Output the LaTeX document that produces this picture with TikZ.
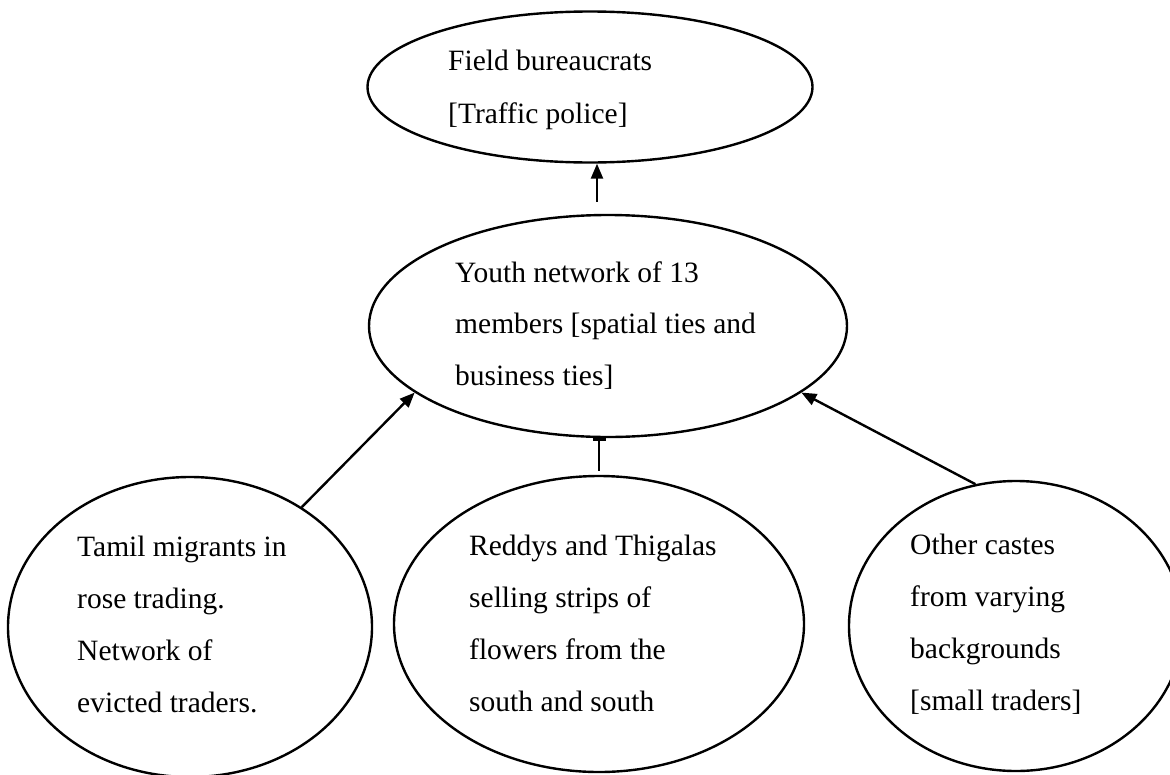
\documentclass[tikz,border=0pt]{standalone}
\usepackage{fontspec}
\setmainfont{Liberation Serif}
\usetikzlibrary{shapes.geometric,arrows.meta}
\begin{document}
\begin{tikzpicture}[x=1pt,y=-1pt,
  oval/.style={draw,ellipse,line width=2.4pt,inner sep=0pt},
  lbl/.style={anchor=base west,inner sep=0pt,align=left,font=\fontsize{29.5}{52}\selectfont},
  arr/.style={line width=2.4pt,-{Triangle[length=15pt,width=12pt]}},
  barr/.style={line width=2.4pt,-{Bar[width=13pt]}}]
\useasboundingbox (0,0) rectangle (1170,774);
% ellipses
\node[oval,minimum width=445pt,minimum height=151pt] (top) at (590,87) {};
\node[oval,minimum width=478pt,minimum height=222pt] (youth) at (608,326) {};
\node[oval,minimum width=364pt,minimum height=300pt] (left) at (190,627) {};
\node[oval,minimum width=410pt,minimum height=296pt] (mid) at (599,624) {};
\node[oval,minimum width=334pt,minimum height=290pt] (right) at (1016,626) {};
% texts (anchor = baseline of the last line)
\node[lbl,font=\fontsize{29.5}{53}\selectfont] (ttop) at (448,123) {Field bureaucrats\\{}[Traffic police]};
\node[lbl,font=\fontsize{29.5}{51.5}\selectfont] (tyouth) at (455,385) {Youth network of 13\\members [spatial ties and\\business ties]};
\node[lbl] (tleft) at (77,712) {Tamil migrants in\\rose trading.\\Network of\\evicted traders.};
\node[lbl] (tmid) at (469,711) {Reddys and Thigalas\\selling strips of\\flowers from the\\south and south};
\node[lbl] (tright) at (910,710) {Other castes\\from varying\\backgrounds\\{}[small traders]};
% connectors
\draw[arr] ([xshift=-11pt,yshift=12pt]youth.north) -- ([xshift=7pt]top.south);
\draw[arr] (left.47) -- (youth.199);
\draw[arr] (right.106) -- (youth.341);
\draw[barr] ([yshift=4pt]mid.north) -- (youth.south -| mid.north);
\end{tikzpicture}
\end{document}
